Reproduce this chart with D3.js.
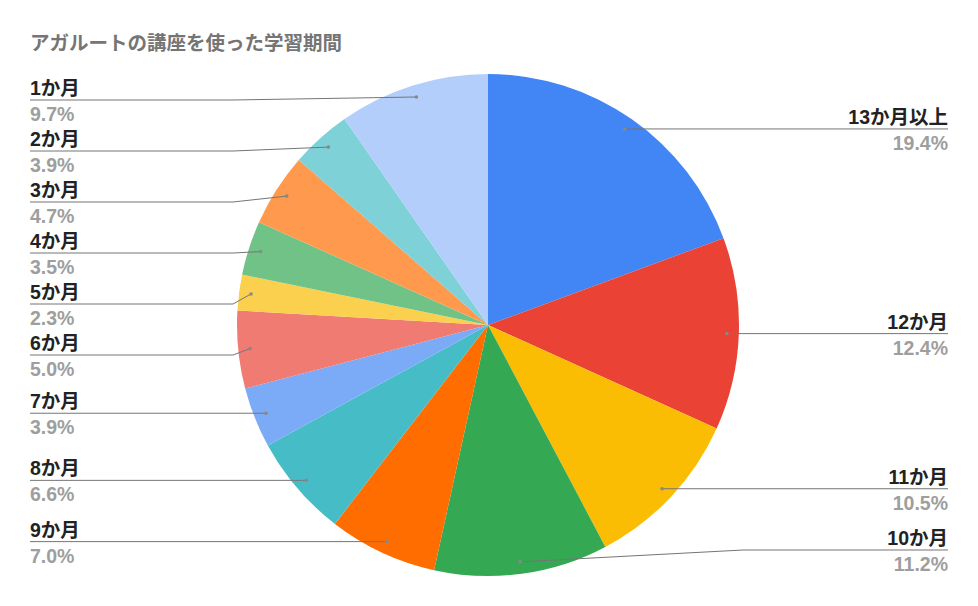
<!DOCTYPE html>
<html lang="ja">
<head>
<meta charset="UTF-8">
<title>アガルートの講座を使った学習期間</title>
<script src="https://cdn.jsdelivr.net/npm/d3@7"></script>
<style>
	body { margin: 0; background: #fff; }
	text { font-family: "Liberation Sans", Arial, "Noto Sans CJK JP", sans-serif; }
	.title { font-size: 19.5px; font-weight: bold; fill: #757575; }
	.name { font-size: 19.5px; font-weight: bold; fill: #222; }
	.pct { font-size: 19.5px; font-weight: bold; fill: #9e9e9e; }
	.leader { fill: none; stroke: #757575; stroke-width: 1; }
	.dot { fill: #888; }
</style>
</head>
<body>
<script>
// data, clockwise from 12 o'clock
var categories = ["13か月以上", "12か月", "11か月", "10か月", "9か月", "8か月", "7か月",
	"6か月", "5か月", "4か月", "3か月", "2か月", "1か月"];
var shares = [19.4, 12.4, 10.5, 11.2, 7.0, 6.6, 3.9, 5.0, 2.3, 3.5, 4.7, 3.9, 9.7];
var colors = ["#4285F4", "#EA4335", "#FBBC04", "#34A853", "#FF6D01", "#46BDC6", "#7BAAF7",
	"#F07B72", "#FCD04F", "#71C287", "#FF994D", "#7ED1D7", "#B3CEFB"];

var width = 978, height = 606;
var cx = 488, cy = 325, r = 251;

var svg = d3.select("body").append("svg")
	.attr("width", width)
	.attr("height", height);

svg.append("text")
	.attr("class", "title")
	.attr("x", 30)
	.attr("y", 50)
	.text("アガルートの講座を使った学習期間");

var data = categories.map(function (c, i) {
	return {name: c, value: shares[i], color: colors[i]};
});

var pie = d3.pie()
	.sort(null)
	.value(function (d) { return d.value; });

var arcs = pie(data);

var arc = d3.arc().innerRadius(0).outerRadius(r);
var dotArc = d3.arc().innerRadius(r - 12).outerRadius(r - 12);

var g = svg.append("g")
	.attr("transform", "translate(" + cx + "," + cy + ")");

g.selectAll(".slice")
	.data(arcs)
	.enter().append("path")
	.attr("class", "slice")
	.attr("d", arc)
	.attr("fill", function (d) { return d.data.color; });

// label placement: each side stacked, min gap, clamped top/bottom
var minY = 100, maxY = 550, gap = 51;
arcs.forEach(function (d) {
	var p = dotArc.centroid(d);
	d.dx = p[0] + cx;
	d.dy = p[1] + cy;
	d.right = (d.startAngle + d.endAngle) / 2 < Math.PI;
	d.ly = d.dy;
});

[true, false].forEach(function (side) {
	var list = arcs.filter(function (d) { return d.right === side; })
		.sort(function (a, b) { return a.dy - b.dy; });
	var i;
	for (i = 0; i < list.length; i++) {
		var lo = i === 0 ? minY : list[i - 1].ly + gap;
		list[i].ly = Math.max(list[i].dy, lo);
	}
	for (i = list.length - 1; i >= 0; i--) {
		var hi = i === list.length - 1 ? maxY : list[i + 1].ly - gap;
		list[i].ly = Math.min(list[i].ly, hi);
	}
});

var labels = svg.selectAll(".label")
	.data(arcs)
	.enter().append("g")
	.attr("class", "label");

labels.append("path")
	.attr("class", "leader")
	.attr("d", function (d) {
		var endX = d.right ? 948 : 30;
		var elbowX = d.right ? Math.max(d.dx, cx + r + 4) : Math.min(d.dx, cx - r - 4);
		return "M" + d.dx + "," + d.dy + "L" + elbowX + "," + d.ly + "L" + endX + "," + d.ly;
	});

labels.append("circle")
	.attr("class", "dot")
	.attr("cx", function (d) { return d.dx; })
	.attr("cy", function (d) { return d.dy; })
	.attr("r", 1.8);

labels.append("text")
	.attr("class", "name")
	.attr("x", function (d) { return d.right ? 948 : 30; })
	.attr("y", function (d) { return d.ly - 5; })
	.attr("text-anchor", function (d) { return d.right ? "end" : "start"; })
	.text(function (d) { return d.data.name; });

labels.append("text")
	.attr("class", "pct")
	.attr("x", function (d) { return d.right ? 948 : 30; })
	.attr("y", function (d) { return d.ly + 21; })
	.attr("text-anchor", function (d) { return d.right ? "end" : "start"; })
	.text(function (d) { return d.data.value.toFixed(1) + "%"; });
</script>
</body>
</html>
